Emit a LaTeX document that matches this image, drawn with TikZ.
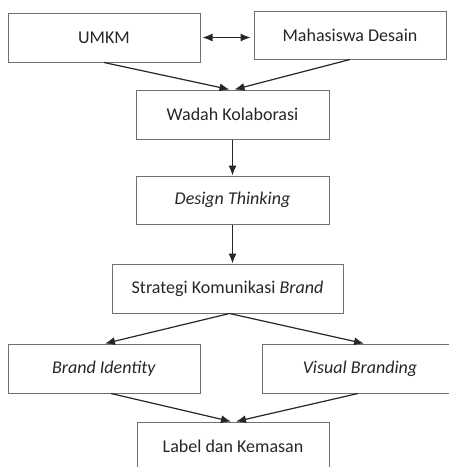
\documentclass[tikz,border=0pt]{standalone}
\usepackage{fontspec}
\setmainfont{Carlito}
\usepackage{xcolor}
\definecolor{boxgray}{HTML}{707070}
\definecolor{txtgray}{HTML}{262626}
\usetikzlibrary{arrows.meta}

\tikzset{
  block/.style={draw=boxgray, line width=1pt, text=txtgray, inner sep=0pt,
    minimum width=192pt, minimum height=49pt,
    font=\fontsize{18}{21}\selectfont},
  link/.style={-{Latex[length=10pt,width=8pt]}, line width=1.2pt, draw=txtgray},
}

\begin{document}
\begin{tikzpicture}[x=1pt, y=-1pt]

            \clip (0,0) rectangle (449,467);
            \useasboundingbox (0,0) rectangle (449,467);

            \node[block] (umkm) at (104, 37.5) {UMKM};
            \node[block, minimum height=48pt] (mahas) at (350, 35) {Mahasiswa Desain};
            \node[block, minimum width=193pt] (wadah) at (232.5, 114.5) {Wadah Kolaborasi};
            \node[block, minimum width=193pt, minimum height=48pt] (design) at (232.5, 200) {\textit{Design Thinking}};
            \node[block, minimum width=231pt] (strategi) at (227.5, 288.5) {Strategi Komunikasi \textit{Brand}};
            \node[block] (brandid) at (104, 368.5) {\textit{Brand Identity}};
            \node[block, minimum width=196pt] (visual) at (360, 368.5) {\textit{Visual Branding}};
            \node[block] (label) at (233, 446.5) {Label dan Kemasan};

            \draw[link, {Latex[length=10pt,width=8pt]}-{Latex[length=10pt,width=8pt]}, shorten <=2pt, shorten >=3pt]
                (umkm.east) -- (umkm.east -| mahas.west);
            \draw[link] (umkm.south) -- ([xshift=-3pt]wadah.north);
            \draw[link] (mahas.south) -- ([xshift=2pt]wadah.north);

            \draw[link] (wadah.south) -- (design.north);
            \draw[link] (design.south) -- (design.south |- strategi.north);

            \draw[link] ([xshift=2pt]strategi.south) -- ([xshift=1pt]brandid.north);
            \draw[link] ([xshift=2pt]strategi.south) -- ([xshift=4pt]visual.north);

            \draw[link] ([xshift=7pt]brandid.south) -- ([xshift=-2pt]label.north);
            \draw[link] ([xshift=-2pt]visual.south) -- ([xshift=3pt]label.north);

          \end{tikzpicture}
\end{document}
